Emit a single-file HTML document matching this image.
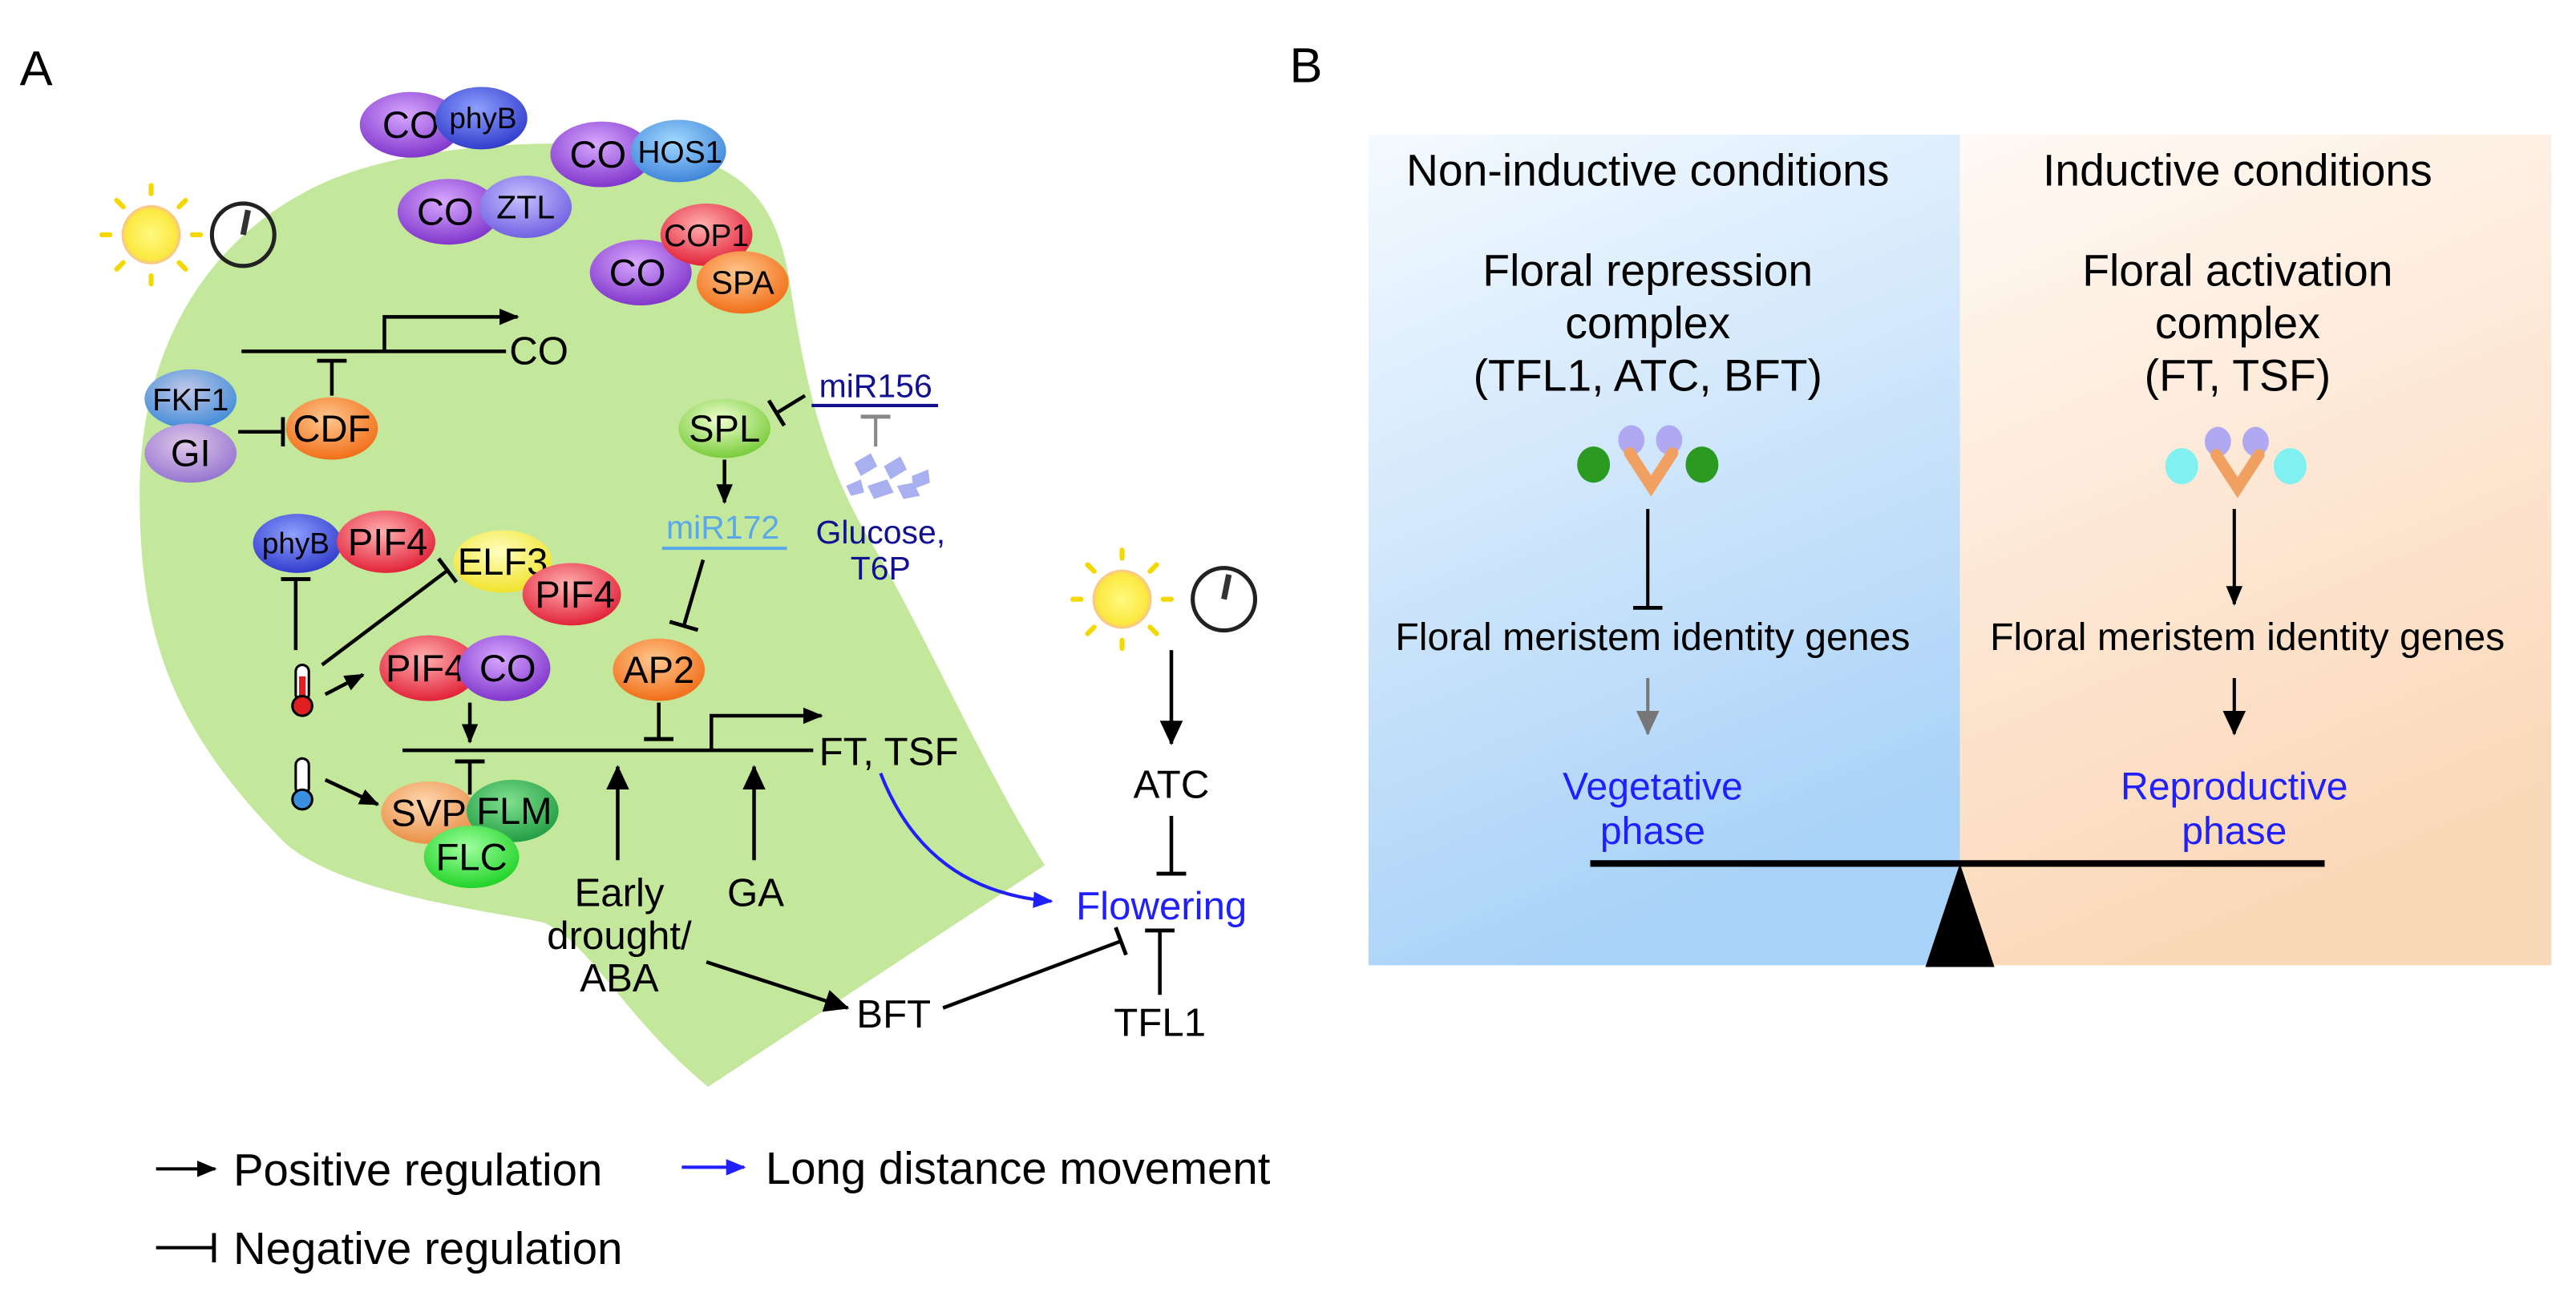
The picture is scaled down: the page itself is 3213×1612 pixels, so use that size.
<!DOCTYPE html>
<html><head><meta charset="utf-8"><style>html,body{margin:0;padding:0;background:#fff}svg{display:block}</style></head>
<body>
<svg width="3213" height="1612" viewBox="0 0 1568 787" preserveAspectRatio="none" xmlns="http://www.w3.org/2000/svg" font-family="Liberation Sans, Arial, sans-serif">
<defs>
<marker id="ah" markerUnits="userSpaceOnUse" markerWidth="16" markerHeight="14" refX="14" refY="7" orient="auto"><path d="M0,0 L15,7 L0,14 Z" fill="#000"/></marker>
<marker id="ahs" markerUnits="userSpaceOnUse" markerWidth="12" markerHeight="10" refX="11" refY="5" orient="auto"><path d="M0,0 L12,5 L0,10 Z" fill="#000"/></marker>
<marker id="ahb" markerUnits="userSpaceOnUse" markerWidth="12" markerHeight="10" refX="11" refY="5" orient="auto"><path d="M0,0 L12,5 L0,10 Z" fill="#2020ff"/></marker>
<marker id="ahg" markerUnits="userSpaceOnUse" markerWidth="16" markerHeight="14" refX="14" refY="7" orient="auto"><path d="M0,0 L15,7 L0,14 Z" fill="#777"/></marker>
<marker id="bar" markerUnits="userSpaceOnUse" markerWidth="4" markerHeight="18" refX="2" refY="9" orient="auto"><rect x="0" y="0" width="2.4" height="18" fill="#000"/></marker>
<marker id="barg" markerUnits="userSpaceOnUse" markerWidth="4" markerHeight="18" refX="2" refY="9" orient="auto"><rect x="0" y="0" width="2.4" height="18" fill="#888"/></marker>
<radialGradient id="gP" cx="45%" cy="35%" r="70%"><stop offset="0" stop-color="#d8a8ff"/><stop offset="1" stop-color="#7a2ec8"/></radialGradient>
<radialGradient id="gB" cx="45%" cy="35%" r="70%"><stop offset="0" stop-color="#8fa0ff"/><stop offset="1" stop-color="#2a36c8"/></radialGradient>
<radialGradient id="gLB" cx="45%" cy="35%" r="70%"><stop offset="0" stop-color="#a0d8ff"/><stop offset="1" stop-color="#3a80d8"/></radialGradient>
<radialGradient id="gV" cx="45%" cy="35%" r="70%"><stop offset="0" stop-color="#c8c0ff"/><stop offset="1" stop-color="#6a5ae0"/></radialGradient>
<radialGradient id="gR" cx="45%" cy="35%" r="70%"><stop offset="0" stop-color="#ffb0b0"/><stop offset="1" stop-color="#e01830"/></radialGradient>
<radialGradient id="gO" cx="45%" cy="35%" r="70%"><stop offset="0" stop-color="#ffc890"/><stop offset="1" stop-color="#f06810"/></radialGradient>
<radialGradient id="gLO" cx="45%" cy="35%" r="70%"><stop offset="0" stop-color="#ffd8b0"/><stop offset="1" stop-color="#e88a40"/></radialGradient>
<radialGradient id="gY" cx="45%" cy="35%" r="70%"><stop offset="0" stop-color="#ffffc0"/><stop offset="1" stop-color="#f0e020"/></radialGradient>
<radialGradient id="gG" cx="45%" cy="35%" r="70%"><stop offset="0" stop-color="#f0ffd0"/><stop offset="1" stop-color="#70c830"/></radialGradient>
<radialGradient id="gDG" cx="45%" cy="35%" r="70%"><stop offset="0" stop-color="#80e090"/><stop offset="1" stop-color="#1c9a40"/></radialGradient>
<radialGradient id="gBG" cx="45%" cy="35%" r="70%"><stop offset="0" stop-color="#a0ffa0"/><stop offset="1" stop-color="#18d020"/></radialGradient>
<radialGradient id="gFK" cx="45%" cy="35%" r="70%"><stop offset="0" stop-color="#c0c8e8"/><stop offset="1" stop-color="#3a88d8"/></radialGradient>
<radialGradient id="gGI" cx="45%" cy="35%" r="70%"><stop offset="0" stop-color="#e0c8e8"/><stop offset="1" stop-color="#9070d0"/></radialGradient>
<linearGradient id="bgL" x1="0" y1="0" x2="0.3" y2="1"><stop offset="0" stop-color="#f4faff"/><stop offset="0.5" stop-color="#cfe6fb"/><stop offset="1" stop-color="#a9d2f8"/></linearGradient>
<linearGradient id="bgR" x1="0" y1="0" x2="0.3" y2="1"><stop offset="0" stop-color="#fffaf5"/><stop offset="0.5" stop-color="#fde8d6"/><stop offset="1" stop-color="#fbd8b8"/></linearGradient>
<radialGradient id="sun" cx="50%" cy="50%" r="50%"><stop offset="0" stop-color="#fffa80"/><stop offset="0.85" stop-color="#fbe840"/><stop offset="1" stop-color="#f8c090"/></radialGradient>
</defs>
<rect width="1568" height="787" fill="#fff"/>
<text x="12" y="52" font-size="30">A</text>
<text x="785" y="50" font-size="30">B</text>

<path d="M431,662 L636,527 C600,470 560,380 530,330 C500,280 490,230 482,180 C475,130 460,108 420,95 C360,82 260,85 200,110 C120,145 85,220 85,300 C85,380 100,440 174,514 C210,545 300,555 331,562 C360,575 380,620 431,662 Z" fill="#c3e79b"/>

<g font-size="23" text-anchor="middle">
<ellipse cx="250" cy="76" rx="31" ry="20" fill="url(#gP)"/><text x="250" y="84">CO</text>
<ellipse cx="293" cy="72" rx="28" ry="19" fill="url(#gB)"/><text x="294" y="78" font-size="18">phyB</text>
<ellipse cx="366" cy="94" rx="31" ry="20" fill="url(#gP)"/><text x="364" y="102">CO</text>
<ellipse cx="413" cy="92" rx="29" ry="19" fill="url(#gLB)"/><text x="414" y="99" font-size="19">HOS1</text>
<ellipse cx="273" cy="129" rx="31" ry="20" fill="url(#gP)"/><text x="271" y="137">CO</text>
<ellipse cx="320" cy="126" rx="28" ry="19" fill="url(#gV)"/><text x="320" y="133" font-size="20">ZTL</text>
<ellipse cx="390" cy="166" rx="31" ry="20" fill="url(#gP)"/><text x="388" y="174">CO</text>
<ellipse cx="430" cy="143" rx="28" ry="19" fill="url(#gR)"/><text x="430" y="150" font-size="19">COP1</text>
<ellipse cx="452" cy="172" rx="28" ry="19" fill="url(#gO)"/><text x="452" y="179" font-size="20">SPA</text>

<ellipse cx="116" cy="243" rx="28" ry="18" fill="url(#gFK)"/><text x="116" y="250" font-size="19">FKF1</text>
<ellipse cx="116" cy="276" rx="28" ry="18" fill="url(#gGI)"/><text x="116" y="284">GI</text>
<ellipse cx="202" cy="261" rx="28" ry="19" fill="url(#gO)"/><text x="202" y="269">CDF</text>
<ellipse cx="441" cy="261" rx="28" ry="18" fill="url(#gG)"/><text x="441" y="269">SPL</text>

<ellipse cx="181" cy="331" rx="27" ry="18" fill="url(#gB)"/><text x="180" y="337" font-size="18">phyB</text>
<ellipse cx="235" cy="330" rx="30" ry="19" fill="url(#gR)"/><text x="236" y="338">PIF4</text>
<ellipse cx="306" cy="342" rx="30" ry="19" fill="url(#gY)"/><text x="306" y="350">ELF3</text>
<ellipse cx="348" cy="362" rx="30" ry="19" fill="url(#gR)"/><text x="350" y="370">PIF4</text>
<ellipse cx="261" cy="407" rx="30" ry="20" fill="url(#gR)"/><text x="259" y="415">PIF4</text>
<ellipse cx="307" cy="407" rx="28" ry="20" fill="url(#gP)"/><text x="309" y="415">CO</text>
<ellipse cx="401" cy="408" rx="28" ry="19" fill="url(#gO)"/><text x="401" y="416">AP2</text>
<ellipse cx="261" cy="495" rx="29" ry="19" fill="url(#gLO)"/><text x="261" y="503">SVP</text>
<ellipse cx="312" cy="494" rx="28" ry="19" fill="url(#gDG)"/><text x="313" y="502">FLM</text>
<ellipse cx="287" cy="522" rx="29" ry="19" fill="url(#gBG)"/><text x="287" y="530">FLC</text>
</g>

<g>
<circle cx="92" cy="143" r="18" fill="url(#sun)"/>
<g stroke="#f5d800" stroke-width="3" stroke-linecap="round">
<line x1="92" y1="113" x2="92" y2="118"/><line x1="92" y1="168" x2="92" y2="173"/>
<line x1="62" y1="143" x2="67" y2="143"/><line x1="117" y1="143" x2="122" y2="143"/>
<line x1="71" y1="122" x2="75" y2="126"/><line x1="109" y1="160" x2="113" y2="164"/>
<line x1="71" y1="164" x2="75" y2="160"/><line x1="109" y1="126" x2="113" y2="122"/>
</g>
<circle cx="148" cy="143" r="19" fill="none" stroke="#222" stroke-width="2.5"/>
<line x1="148" y1="143" x2="151" y2="128" stroke="#333" stroke-width="3.5"/>
</g>
<g>
<circle cx="683" cy="365" r="18" fill="url(#sun)"/>
<g stroke="#f5d800" stroke-width="3" stroke-linecap="round">
<line x1="683" y1="335" x2="683" y2="340"/><line x1="683" y1="390" x2="683" y2="395"/>
<line x1="653" y1="365" x2="658" y2="365"/><line x1="708" y1="365" x2="713" y2="365"/>
<line x1="662" y1="344" x2="666" y2="348"/><line x1="700" y1="382" x2="704" y2="386"/>
<line x1="662" y1="386" x2="666" y2="382"/><line x1="700" y1="348" x2="704" y2="344"/>
</g>
<circle cx="745" cy="365" r="19" fill="none" stroke="#222" stroke-width="2.5"/>
<line x1="745" y1="365" x2="748" y2="350" stroke="#333" stroke-width="3.5"/>
</g>

<g stroke="#000" stroke-width="2.2" fill="none">
<line x1="147" y1="214" x2="308" y2="214"/>
<polyline points="234,214 234,193 315,193" marker-end="url(#ahs)"/>
<line x1="202" y1="241" x2="202" y2="219" marker-end="url(#bar)"/>
<line x1="145" y1="263" x2="173" y2="263" marker-end="url(#bar)"/>
<line x1="490" y1="241" x2="472" y2="252" marker-end="url(#bar)"/>
<line x1="441" y1="280" x2="441" y2="306" marker-end="url(#ahs)"/>
<line x1="428" y1="341" x2="416" y2="382" marker-end="url(#bar)"/>
<line x1="180" y1="396" x2="180" y2="352" marker-end="url(#bar)"/>
<line x1="196" y1="405" x2="273" y2="347" marker-end="url(#bar)"/>
<line x1="198" y1="423" x2="221" y2="411" marker-end="url(#ahs)"/>
<line x1="286" y1="428" x2="286" y2="452" marker-end="url(#ahs)"/>
<line x1="245" y1="457" x2="495" y2="457"/>
<polyline points="433,457 433,436 500,436" marker-end="url(#ahs)"/>
<line x1="401" y1="428" x2="401" y2="451" marker-end="url(#bar)"/>
<line x1="286" y1="484" x2="286" y2="463" marker-end="url(#bar)"/>
<line x1="198" y1="475" x2="230" y2="490" marker-end="url(#ahs)"/>
<line x1="376" y1="524" x2="376" y2="467" marker-end="url(#ah)"/>
<line x1="459" y1="524" x2="459" y2="467" marker-end="url(#ah)"/>
<line x1="430" y1="586" x2="516" y2="614" marker-end="url(#ah)"/>
<line x1="574" y1="614" x2="683" y2="573" marker-end="url(#bar)"/>
<line x1="706" y1="606" x2="706" y2="566" marker-end="url(#bar)"/>
<line x1="713" y1="497" x2="713" y2="533" marker-end="url(#bar)"/>
<line x1="713" y1="396" x2="713" y2="453" marker-end="url(#ah)"/>
</g>
<path d="M536,471 C555,520 590,545 640,549" stroke="#2020ff" stroke-width="2" fill="none" marker-end="url(#ahb)"/>

<g>
<rect x="180" y="405" width="8" height="22" rx="4" fill="#fff" stroke="#000" stroke-width="1.5"/>
<rect x="182" y="412" width="4" height="15" fill="#e02020"/>
<circle cx="184" cy="430" r="6" fill="#e02020" stroke="#000" stroke-width="1.5"/>
<rect x="180" y="462" width="8" height="22" rx="4" fill="#fff" stroke="#000" stroke-width="1.5"/>
<circle cx="184" cy="487" r="6" fill="#3a90e0" stroke="#000" stroke-width="1.5"/>
</g>

<g fill="#a8b0f0">
<polygon points="520,282 530,276 534,284 524,290"/><polygon points="538,284 548,278 552,286 542,292"/>
<polygon points="555,290 565,286 566,294 556,298"/><polygon points="528,296 540,292 544,300 532,304"/>
<polygon points="546,296 556,294 560,302 550,304"/><polygon points="515,296 524,292 526,300 518,302"/>
</g>
<line x1="533" y1="272" x2="533" y2="253" stroke="#888" stroke-width="2" marker-end="url(#barg)"/>

<g font-size="24" text-anchor="middle">
<text x="328" y="222">CO</text>
<text x="533" y="242" fill="#101090" font-size="20">miR156</text>
<line x1="494" y1="247" x2="571" y2="247" stroke="#101090" stroke-width="2"/>
<text x="440" y="328" fill="#5aa8e8" font-size="20">miR172</text>
<line x1="403" y1="334" x2="479" y2="334" stroke="#5aa8e8" stroke-width="2"/>
<text x="536" y="331" fill="#101090" font-size="20">Glucose,</text>
<text x="536" y="353" fill="#101090" font-size="20">T6P</text>
<text x="541" y="466">FT, TSF</text>
<text x="377" y="552">Early</text>
<text x="377" y="578">drought/</text>
<text x="377" y="604">ABA</text>
<text x="460" y="552">GA</text>
<text x="544" y="626">BFT</text>
<text x="707" y="560" fill="#2020ff">Flowering</text>
<text x="706" y="631">TFL1</text>
<text x="713" y="486">ATC</text>
</g>

<g font-size="27.5">
<line x1="95" y1="712" x2="131" y2="712" stroke="#000" stroke-width="2" marker-end="url(#ahs)"/>
<text x="142" y="722">Positive regulation</text>
<line x1="415" y1="711" x2="453" y2="711" stroke="#2020ff" stroke-width="2" marker-end="url(#ahb)"/>
<text x="466" y="721">Long distance movement</text>
<line x1="95" y1="760" x2="131" y2="760" stroke="#000" stroke-width="2" marker-end="url(#bar)"/>
<text x="142" y="770">Negative regulation</text>
</g>

<rect x="833" y="82" width="360" height="506" fill="url(#bgL)"/>
<rect x="1193" y="82" width="360" height="506" fill="url(#bgR)"/>
<g font-size="27" text-anchor="middle">
<text x="1003" y="113">Non-inductive conditions</text>
<text x="1362" y="113">Inductive conditions</text>
<text x="1003" y="174">Floral repression</text>
<text x="1003" y="206">complex</text>
<text x="1003" y="238">(TFL1, ATC, BFT)</text>
<text x="1362" y="174">Floral activation</text>
<text x="1362" y="206">complex</text>
<text x="1362" y="238">(FT, TSF)</text>
<text x="1006" y="396" font-size="23.5">Floral meristem identity genes</text>
<text x="1368" y="396" font-size="23.5">Floral meristem identity genes</text>
<text x="1006" y="487" fill="#2020ff" font-size="23.5">Vegetative</text>
<text x="1006" y="514" fill="#2020ff" font-size="23.5">phase</text>
<text x="1360" y="487" fill="#2020ff" font-size="23.5">Reproductive</text>
<text x="1360" y="514" fill="#2020ff" font-size="23.5">phase</text>
</g>
<g>
<ellipse cx="993" cy="268" rx="8" ry="9" fill="#b0a8f0"/><ellipse cx="1016" cy="268" rx="8" ry="9" fill="#b0a8f0"/>
<path d="M992,276 L1005,296 L1018,276" stroke="#f0a060" stroke-width="7" fill="none" stroke-linecap="round"/>
<ellipse cx="970" cy="283" rx="10" ry="11" fill="#2a9a20"/><ellipse cx="1036" cy="283" rx="10" ry="11" fill="#2a9a20"/>
<ellipse cx="1350" cy="269" rx="8" ry="9" fill="#b0a8f0"/><ellipse cx="1373" cy="269" rx="8" ry="9" fill="#b0a8f0"/>
<path d="M1349,277 L1362,297 L1375,277" stroke="#f0a060" stroke-width="7" fill="none" stroke-linecap="round"/>
<ellipse cx="1328" cy="284" rx="10" ry="11" fill="#80f0f0"/><ellipse cx="1394" cy="284" rx="10" ry="11" fill="#80f0f0"/>
</g>
<line x1="1003" y1="310" x2="1003" y2="371" stroke="#000" stroke-width="2" marker-end="url(#bar)"/>
<line x1="1360" y1="310" x2="1360" y2="368" stroke="#000" stroke-width="2" marker-end="url(#ahs)"/>
<line x1="1003" y1="413" x2="1003" y2="447" stroke="#777" stroke-width="2" marker-end="url(#ahg)"/>
<line x1="1360" y1="413" x2="1360" y2="447" stroke="#000" stroke-width="2" marker-end="url(#ah)"/>
<line x1="968" y1="526" x2="1415" y2="526" stroke="#000" stroke-width="4"/>
<polygon points="1193,526 1172,589 1214,589" fill="#000"/>
</svg>
</body></html>
